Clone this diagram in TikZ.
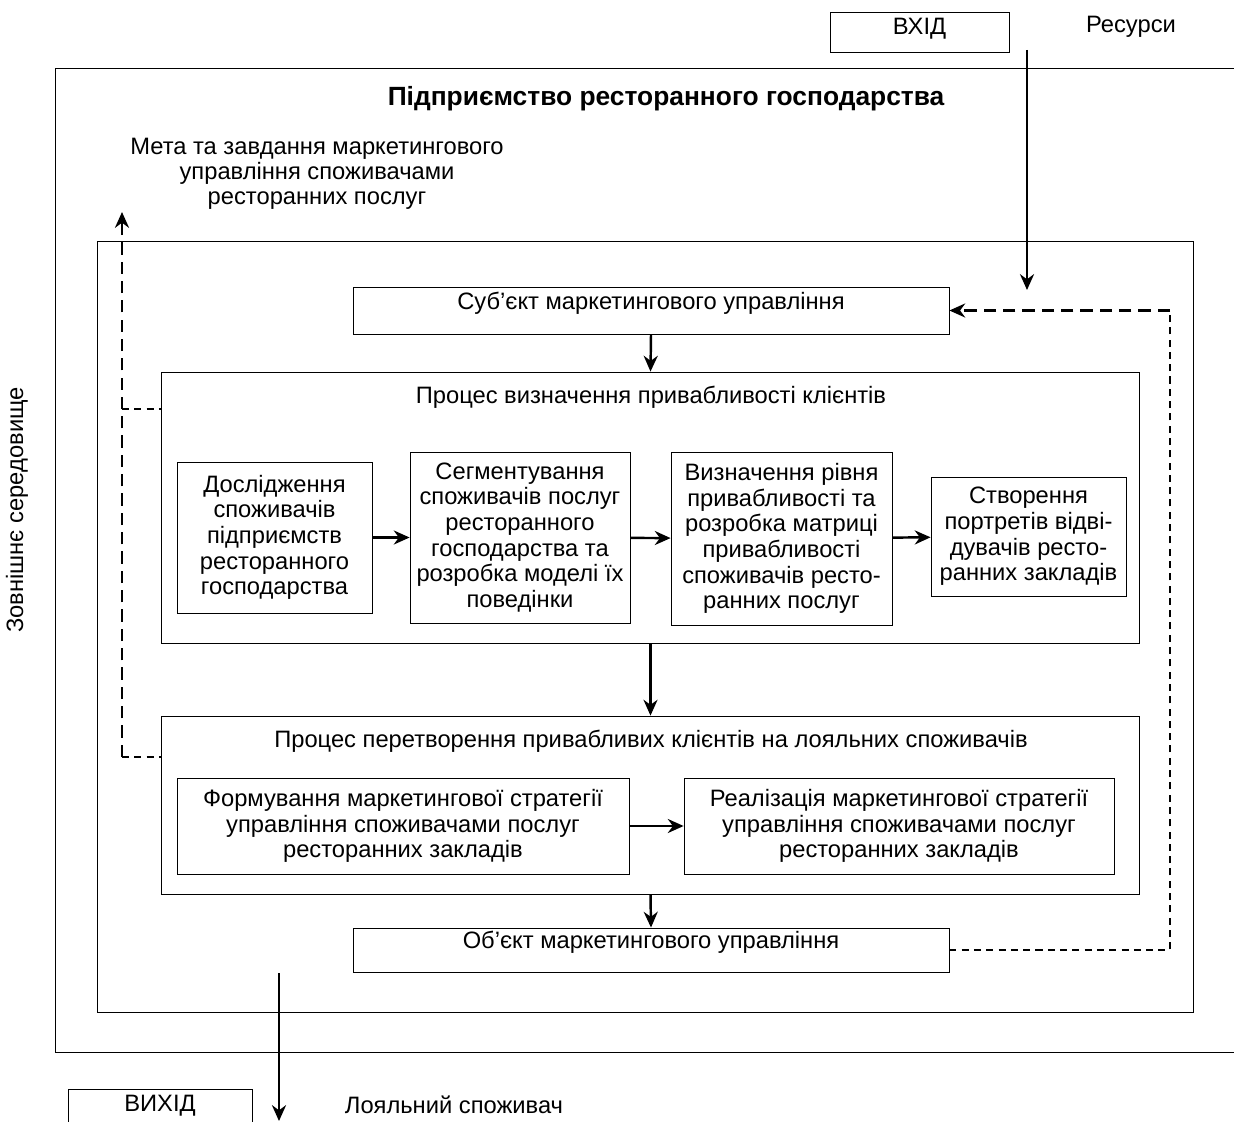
\documentclass[tikz,border=0pt]{standalone}
\usepackage{fontspec}
\setmainfont{Liberation Sans}
\usetikzlibrary{arrows.meta}

\begin{document}
\begin{tikzpicture}[x=0.02cm,y=-0.02cm,font=\fontsize{13.5}{14.6}\selectfont]
\tikzstyle{dep}= [-{Stealth[length=9pt,width=8pt]},line width=1.4pt]
\tikzstyle{bb}= [rectangle,draw,line width=0.5pt,align=center,inner sep=1pt]
\tikzstyle{io}= [rectangle,draw,line width=0.5pt,inner ysep=0pt,text height=0.45cm,text depth=0.35cm]
\tikzstyle{fine}= [line width=0.6pt,dash pattern=on 4pt off 3pt]
\tikzstyle{fb}= [dep,dash pattern=on 7pt off 4pt]

\useasboundingbox (0,0) rectangle (1234,1122);

% frames
\draw[line width=0.5pt] (1234,68) -- (55,68) -- (55,1052) -- (1234,1052);
\draw[line width=0.5pt] (97,241) rectangle (1193,1012);

\path
	(919.5,12) node[io,anchor=north,minimum width=3.58cm] (vkhid) {ВХІД}
	(160,1089) node[io,anchor=north,minimum width=3.68cm] (vykhid) {ВИХІД}
	(1131,27) node[] (res) {Ресурси}
	(454,1105) node[] (loyal) {Лояльний споживач}
	(666,99) node[font=\fontsize{15}{17}\selectfont\bfseries] (title) {Підприємство ресторанного господарства}
	(317,174) node[align=center,font=\fontsize{13.5}{14.2}\selectfont] (goaltxt) {Мета та завдання маркетингового\\управління споживачами\\ресторанних послуг}
	(17,510) node[rotate=90] (env) {Зовнішнє середовище}
	(651,310.5) node[bb,minimum width=11.92cm,minimum height=0.94cm,text depth=0.4cm] (subj) {Суб’єкт маркетингового управління}
	(650.5,507.5) node[bb,minimum width=19.58cm,minimum height=5.42cm] (proc1) {}
	(651,397) node[] (proc1t) {Процес визначення привабливості клієнтів}
	(274.5,537.5) node[bb,minimum width=3.9cm,minimum height=3.02cm] (d1) {Дослідження\\споживачів\\підприємств\\ресторанного\\господарства}
	(520,537.5) node[bb,minimum width=4.4cm,minimum height=3.42cm] (d2) {Сегментування\\споживачів послуг\\ресторанного\\господарства та\\розробка моделі їх\\поведінки}
	(781.5,538.5) node[bb,minimum width=4.42cm,minimum height=3.46cm] (d3) {Визначення рівня\\привабливості та\\розробка матриці\\привабливості\\споживачів ресто-\\ранних послуг}
	(1028.5,536.5) node[bb,minimum width=3.9cm,minimum height=2.38cm] (d4) {Створення\\портретів відві-\\дувачів ресто-\\ранних закладів}
	(650.5,805) node[bb,minimum width=19.58cm,minimum height=3.56cm] (proc2) {}
	(651,741) node[] (proc2t) {Процес перетворення привабливих клієнтів на лояльних споживачів}
	(403,826) node[bb,minimum width=9.04cm,minimum height=1.92cm] (s1) {Формування маркетингової стратегії\\управління споживачами послуг\\ресторанних закладів}
	(899,826) node[bb,minimum width=8.6cm,minimum height=1.92cm] (s2) {Реалізація маркетингової стратегії\\управління споживачами послуг\\ресторанних закладів}
	(651,950) node[bb,minimum width=11.92cm,minimum height=0.88cm,text depth=0.4cm] (obj) {Об’єкт маркетингового управління}
;

\coordinate (inS) at (1027,50);
\coordinate (inE) at (1027,290);
\coordinate (outS) at (279,973);
\coordinate (outE) at (279,1121);
\coordinate (fbc) at (1170,310.5);
\coordinate (l1) at (122,409);
\coordinate (l2) at (122,757);
\coordinate (goal) at (122,212);

\draw[dep] (inS) -- (inE);
\draw[dep] (outS) -- (outE);
\draw[dep] (subj.south) -- (proc1.north);
\draw[dep] (proc1.south) -- (proc2.north);
\draw[dep] (proc2.south) -- (obj.north);
\draw[dep] (d1) -- (d2);
\draw[dep] (d2) -- (d3);
\draw[dep] (d3) -- (d4);
\draw[dep] (s1) -- (s2);

% feedback
\draw[fine] (obj.east) -| (fbc);
\draw[fb] (fbc) -- (subj.east);
\draw[fine] (l1) -- (l1 -| proc1.west);
\draw[fine] (l2) -- (l2 -| proc2.west);
\draw[fb] (l2) -- (goal);
\end{tikzpicture}
\end{document}
